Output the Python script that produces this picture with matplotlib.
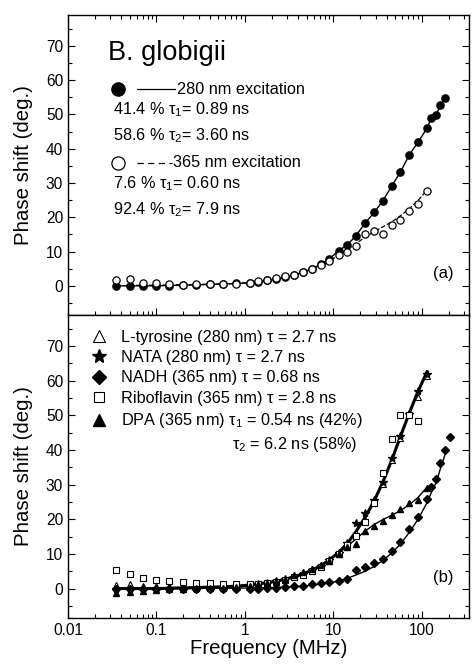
import matplotlib
matplotlib.use("Agg")
import matplotlib.pyplot as plt
from matplotlib.ticker import LogLocator, FixedLocator, MultipleLocator, NullFormatter

plt.rcParams['font.family'] = ['Liberation Sans', 'DejaVu Sans']
plt.rcParams['mathtext.fontset'] = 'custom'
plt.rcParams['mathtext.rm'] = 'Liberation Sans'
plt.rcParams['mathtext.it'] = 'Liberation Sans'
plt.rcParams['mathtext.default'] = 'rm'

# ---------------- data ----------------
freq = [0.035, 0.05, 0.07, 0.1, 0.14, 0.2, 0.28, 0.4, 0.56, 0.8, 1.13, 1.42, 1.79, 2.24,
        2.84, 3.59, 4.5, 5.7, 7.2, 9.0, 11.4, 14.4, 17.9, 22.8, 28.8, 36.1, 45.7, 56.9,
        71.9, 90.2, 114]
freq_ext = freq + [128, 145, 161, 184]
freq_nadh = freq + [128, 145, 161, 184, 206]

# Panel (a): B. globigii
exc280 = [0, 0, 0, 0, 0.1, 0.2, 0.3, 0.4, 0.5, 0.7, 0.9, 1.2, 1.6, 2.0, 2.6, 3.2, 4.0,
          5.0, 6.3, 7.9, 10.2, 12.0, 14.6, 18.3, 21.4, 24.8, 29.2, 33.1, 38.2, 41.9, 46.0,
          49.0, 49.9, 52.7, 54.7]
exc365 = [1.65, 2.1, 0.9, 0.7, 0.4, 0.2, 0.4, 0.5, 0.6, 0.6, 0.9, 1.4, 1.8, 2.2, 2.8,
          3.3, 3.9, 4.8, 6.0, 7.3, 9.1, 9.9, 11.5, 15.0, 15.9, 15.2, 17.7, 19.1, 21.7,
          24.0, 27.8]
fit365 = [0.1, 0.1, 0.2, 0.2, 0.3, 0.3, 0.4, 0.5, 0.6, 0.7, 0.9, 1.2, 1.6, 2.0, 2.5,
          3.2, 3.9, 4.9, 6.0, 7.3, 8.9, 10.6, 12.3, 14.2, 15.8, 17.2, 18.7, 20.4, 22.5,
          24.9, 27.9]

# Panel (b): reference fluorophores
tyrosine = [1.1, 1.2, 0.8, 0.8, 0.7, 0.6, 0.6, 0.6, 0.6, 0.7, 1.0, 1.3, 1.7, 2.1, 2.6,
            3.3, 4.1, 5.2, 6.5, 8.2, 10.3, 13.0, 16.1, 19.7, 24.8, 30.2, 37.2, 43.5,
            50.6, 55.4, 61.3]
nata = [0, 0, 0, 0, 0, 0, 0, 0.1, 0.2, 0.4, 0.9, 1.4, 1.7, 2.2, 2.7, 3.4, 4.2, 5.3,
        6.6, 8.3, 10.4, 13.1, 18.8, 21.7, 25.5, 30.9, 37.7, 44.0, 50.5, 57.1, 62.0]
nadh = [0, 0, 0, 0, 0, 0, 0, 0, 0, 0, 0, 0, 0.1, 0.2, 0.4, 0.6, 0.6, 1.3, 1.6, 1.9,
        2.3, 2.9, 5.3, 6.1, 7.4, 8.6, 10.8, 13.5, 17.1, 20.6, 25.8, 29.2, 31.7, 36.2,
        40.1, 43.8]
riboflavin = [5.5, 4.1, 3.0, 2.5, 2.1, 1.8, 1.7, 1.6, 1.2, 1.2, 1.2, 1.4, 1.7, 2.0,
              2.5, 3.2, 4.0, 5.0, 6.3, 8.0, 10.1, 12.6, 15.1, 19.2, 24.8, 33.5, 43.1,
              50.0, 50.0, 48.4]
dpa = [-1.2, -0.9, -0.7, -0.4, -0.2, 0, 0.1, 0.2, 0.3, 0.5, 0.8, 1.2, 1.7, 2.2, 2.9,
       4.0, 4.8, 5.6, 6.8, 8.1, 10.0, 12.1, 12.9, 16.6, 18.0, 19.5, 21.2, 22.9, 24.6,
       25.6, 29.0]
fit_tyr = [0, 0, 0, 0, 0.1, 0.2, 0.3, 0.4, 0.5, 0.7, 1.0, 1.4, 1.7, 2.1, 2.7, 3.4, 4.2,
           5.3, 6.6, 8.3, 10.4, 13.1, 16.4, 20.6, 25.3, 30.7, 37.2, 43.8, 50.7, 56.9, 62.6]
fit_dpa = [0, 0, 0, 0, 0.1, 0.1, 0.2, 0.3, 0.4, 0.6, 0.9, 1.2, 1.6, 2.1, 2.7, 3.4, 4.3,
           5.4, 6.7, 8.3, 10.1, 12.3, 14.3, 16.6, 18.5, 19.9, 21.2, 22.5, 24.2, 26.3, 29.3]
fit_nadh = [0, 0, 0, 0, 0, 0, 0, 0.1, 0.1, 0.1, 0.2, 0.2, 0.3, 0.3, 0.4, 0.5, 0.7, 1.0,
            1.3, 1.6, 2.2, 3.0, 3.9, 5.0, 6.4, 8.1, 10.3, 12.8, 16.2, 20.0, 24.8, 27.8,
            30.7, 34.5, 39.0]

xticks = [0.01, 0.1, 1, 10, 100]
xticklabels = ["0.01", "0.1", "1", "10", "100"]
yticks = [0, 10, 20, 30, 40, 50, 60, 70]

# ---------------- figure ----------------
fig = plt.figure(figsize=(4.75, 6.67), dpi=100)
L, R = 68 / 475, 469 / 475
ax1 = fig.add_axes([L, 1 - 315 / 667, R - L, 300 / 667])
ax2 = fig.add_axes([L, 1 - 618 / 667, R - L, 303 / 667])

for ax in (ax1, ax2):
    ax.set_xscale('log')
    ax.set_xlim(0.01, 340)
    ax.set_ylim(-8.5, 79)
    ax.xaxis.set_major_locator(FixedLocator(xticks))
    ax.xaxis.set_minor_locator(LogLocator(base=10, subs=range(2, 10), numticks=20))
    ax.xaxis.set_minor_formatter(NullFormatter())
    ax.yaxis.set_major_locator(FixedLocator(yticks))
    ax.yaxis.set_minor_locator(MultipleLocator(5))
    ax.tick_params(which='both', direction='in', right=True, labelsize=11.2)
    ax.tick_params(which='major', length=5, width=0.8)
    ax.tick_params(which='minor', length=3, width=0.8)
    ax.set_ylabel("Phase shift (deg.)", fontsize=14.7, labelpad=9)
    for s in ax.spines.values():
        s.set_linewidth(1.0)

ax1.tick_params(which='both', top=True, labelbottom=False)
ax2.tick_params(which='both', top=False)
ax2.set_xticklabels(xticklabels)
ax2.set_xlabel("Frequency (MHz)", fontsize=14.7, labelpad=1)

fs = 11.7

# Panel (a)
ax1.plot(freq_ext, exc280, '-', color='black', lw=1.0, zorder=2)
ax1.plot(freq, fit365, '--', color='black', lw=0.9, zorder=2)
ax1.plot(freq_ext, exc280, 'o', color='black', ms=5.2, zorder=3)
ax1.plot(freq, exc365, 'o', mfc='white', mec='black', mew=0.9, ms=5.2, zorder=4)

ta = ax1.transAxes
ax1.text(0.10, 0.873, "B. globigii", fontsize=19.5, transform=ta, va='center', ha='left')
ax1.plot([0.125], [0.753], 'o', color='black', ms=9.5, transform=ta, clip_on=False)
ax1.plot([0.172, 0.267], [0.753, 0.753], '-', color='black', lw=0.9, transform=ta)
ax1.text(0.272, 0.753, "280 nm excitation", fontsize=fs, transform=ta, va='center')
ax1.text(0.112, 0.683, "41.4 % τ$_1$= 0.89 ns", fontsize=fs, transform=ta, va='center')
ax1.text(0.112, 0.597, "58.6 % τ$_2$= 3.60 ns", fontsize=fs, transform=ta, va='center')
ax1.plot([0.125], [0.507], 'o', mfc='white', mec='black', mew=0.9, ms=9.5, transform=ta,
         clip_on=False)
ax1.plot([0.172, 0.259], [0.507, 0.507], '--', color='black', lw=0.9, transform=ta,
         dashes=(5, 3.5))
ax1.text(0.262, 0.507, "365 nm excitation", fontsize=fs, transform=ta, va='center')
ax1.text(0.112, 0.437, "7.6 % τ$_1$= 0.60 ns", fontsize=fs, transform=ta, va='center')
ax1.text(0.112, 0.350, "92.4 % τ$_2$= 7.9 ns", fontsize=fs, transform=ta, va='center')
ax1.text(0.935, 0.137, "(a)", fontsize=12, transform=ta, va='center', ha='center')

# Panel (b)
ax2.plot(freq, fit_tyr, '-', color='black', lw=2.2, zorder=2)
ax2.plot(freq, fit_dpa, '-', color='black', lw=1.0, zorder=2)
ax2.plot(freq_ext, fit_nadh, '-', color='black', lw=1.0, zorder=2)
ms = 4.5
h_tyr, = ax2.plot(freq, tyrosine, '^', mfc='white', mec='black', mew=0.8, ms=ms, zorder=3)
h_nata, = ax2.plot(freq, nata, '*', color='black', ms=ms + 1.5, zorder=3)
h_nadh, = ax2.plot(freq_nadh, nadh, 'D', color='black', ms=ms - 0.5, zorder=3)
h_rib, = ax2.plot(freq[:len(riboflavin)], riboflavin, 's', mfc='white', mec='black',
                  mew=0.8, ms=ms - 0.4, zorder=3)
h_dpa, = ax2.plot(freq, dpa, '^', color='black', ms=ms, zorder=3)

leg = ax2.legend([h_tyr, h_nata, h_nadh, h_rib, h_dpa],
                 ["L-tyrosine (280 nm) τ = 2.7 ns",
                  "NATA (280 nm) τ = 2.7 ns",
                  "NADH (365 nm) τ = 0.68 ns",
                  "Riboflavin (365 nm) τ = 2.8 ns",
                  "DPA (365 nm) τ$_1$ = 0.54 ns (42%)"],
                 loc='upper left', bbox_to_anchor=(0.058, 0.952), frameon=False,
                 fontsize=fs, markerscale=1.8, handlelength=1.0, handletextpad=0.8,
                 labelspacing=0.335, borderpad=0, borderaxespad=0)
tb = ax2.transAxes
ax2.text(0.409, 0.571, "τ$_2$ = 6.2 ns (58%)", fontsize=fs, transform=tb, va='center')
ax2.text(0.935, 0.135, "(b)", fontsize=12, transform=tb, va='center', ha='center')

fig.savefig("out.png", dpi=100)
